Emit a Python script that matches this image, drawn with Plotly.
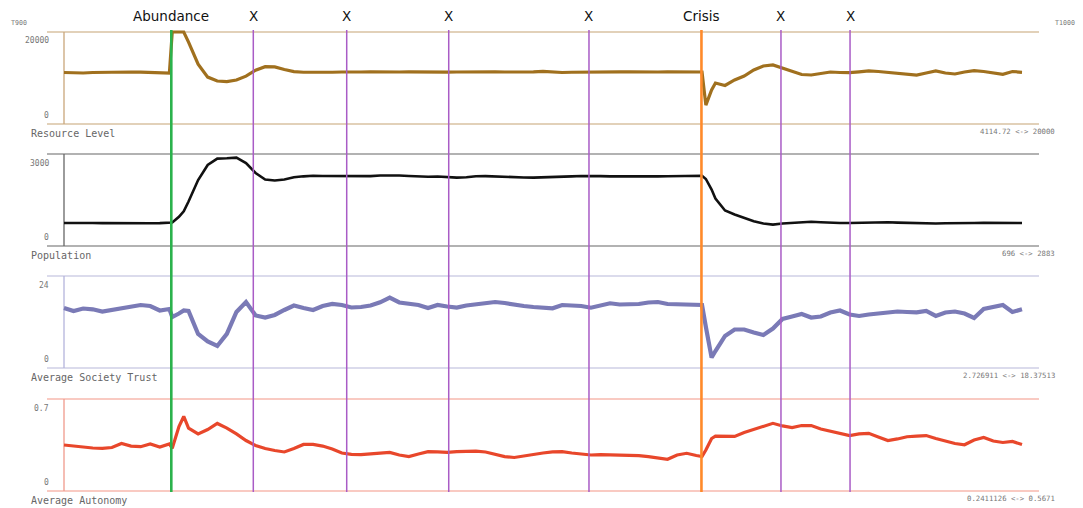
import plotly.graph_objects as go

W, H = 1083, 508

# Simulation steps (extra samples where the dynamics change abruptly)
STEPS = (list(range(900, 912)) + [911.3, 912, 912.5] + list(range(913, 967))
         + [966.6, 967, 967.6] + list(range(968, 1001)))

resource_level = [
    11200, 11130, 11090, 11200, 11260, 11350, 11370, 11300, 11260, 11200, 11150, 11090,
    20000, 20000, 20000,
    17800, 13000, 10200, 9350, 9200, 9550, 10400, 11700, 12450, 12400, 11850, 11400, 11250,
    11200, 11150, 11250, 11300, 11250, 11300, 11350, 11300, 11250, 11300, 11350, 11300,
    11280, 11320, 11260, 11300, 11340, 11300, 11280, 11330, 11300, 11260, 11310, 11350,
    11420, 11300, 11200, 11250, 11300, 11340, 11300, 11280, 11330, 11360, 11300, 11340,
    11300, 11320, 11290, 11330, 11310,
    11300, 4114.72, 7400,
    8900, 8370, 9570, 10430, 11740, 12610, 12830, 12170, 11410, 10760, 10650, 10980,
    11300, 11200, 11150, 11350, 11560, 11410, 11240, 11090, 10940, 10650, 11090, 11560,
    11090, 10870, 11300, 11590, 11410, 11150, 10800, 11410, 11240,
]

population = [
    750, 755, 760, 752, 745, 740, 742, 748, 745, 740, 745, 750,
    766, 950, 1130,
    1450, 2150, 2640, 2850, 2860, 2883, 2706, 2380, 2168, 2135, 2168, 2243, 2272, 2292,
    2282, 2280, 2270, 2260, 2265, 2280, 2300, 2310, 2300, 2285, 2270, 2260, 2265, 2250,
    2230, 2240, 2275, 2280, 2265, 2250, 2240, 2235, 2230, 2240, 2230, 2250, 2270, 2285,
    2292, 2280, 2270, 2265, 2260, 2262, 2265, 2270, 2275, 2285, 2290, 2292,
    2292, 2185, 1842,
    1549, 1158, 1027, 919, 805, 734, 696,
    734, 757, 783, 789, 773, 757, 750, 750, 760, 766, 773, 773, 763, 750, 750, 744,
    734, 744, 740, 737, 750, 757, 757, 773, 750, 750,
]

society_trust = [
    15.65, 14.87, 15.52, 15.31, 14.74, 15.13, 15.78, 16.17, 16.43, 16.17, 15.0, 15.39,
    13.30, 14.22, 15.0,
    14.87, 8.87, 6.91, 5.74, 8.9, 14.61, 17.22, 13.70, 13.17, 13.83, 15.13, 16.30, 15.65,
    15.13, 16.17, 16.70, 16.43, 15.78, 15.91, 16.30, 17.14, 18.37513, 17.09, 16.70, 16.43,
    15.65, 16.43, 16.04, 15.78, 16.30, 16.57, 16.96, 17.22, 16.96, 16.43, 16.17, 15.91,
    15.78, 15.57, 16.43, 16.43, 16.17, 15.73, 16.43, 16.88, 16.57, 16.57, 16.70, 17.09,
    17.22, 16.70, 16.57, 16.43, 16.43,
    16.43, 10.70, 2.726911,
    4.43, 8.35, 10.04, 10.04, 9.26, 8.61, 10.30, 12.78, 13.43, 14.09, 13.17, 13.43,
    14.48, 15.0, 13.96, 13.57, 13.96, 14.22, 14.48, 14.74, 14.61, 14.53, 14.87, 13.57,
    14.48, 14.74, 14.22, 13.04, 15.39, 16.04, 16.43, 14.61, 15.31,
]

autonomy = [
    0.350, 0.342, 0.335, 0.327, 0.325, 0.331, 0.361, 0.342, 0.337, 0.358, 0.335, 0.358,
    0.325, 0.49, 0.5671,
    0.479, 0.434, 0.468, 0.514, 0.479, 0.434, 0.384, 0.346, 0.323, 0.308, 0.297, 0.323, 0.354,
    0.354, 0.342, 0.320, 0.289, 0.279, 0.277, 0.282, 0.289, 0.294, 0.274, 0.262, 0.282,
    0.299, 0.297, 0.294, 0.299, 0.302, 0.304, 0.297, 0.277, 0.262, 0.255, 0.266, 0.282,
    0.289, 0.297, 0.300, 0.289, 0.279, 0.274, 0.277, 0.276, 0.274, 0.270, 0.269, 0.262,
    0.253, 0.2411126, 0.274, 0.287, 0.270,
    0.262, 0.312, 0.3995,
    0.418, 0.415, 0.415, 0.445, 0.468, 0.491, 0.515, 0.495, 0.483, 0.498, 0.498, 0.472,
    0.457, 0.437, 0.422, 0.434, 0.439, 0.411, 0.384, 0.396, 0.413, 0.418, 0.422, 0.399,
    0.377, 0.361, 0.352, 0.388, 0.407, 0.380, 0.369, 0.377, 0.354,
]

PANEL_NAMES = ["Resource Level", "Population", "Average Society Trust", "Average Autonomy"]
PANEL_MAX = [20000, 3000, 24, 0.7]
PANEL_MAX_LABELS = ["20000", "3000", "24", "0.7"]
SERIES = [resource_level, population, society_trust, autonomy]

EVENT_LABELS = ["Abundance", "X", "X", "X", "X", "Crisis", "X", "X"]
EVENT_STEPS = [911.2, 919.76, 929.51, 940.16, 954.8, 966.54, 974.84, 982.05]

T_START, T_END = 900, 1000

# styling
LINE_COLORS = ["#a0701e", "#111111", "#7a7ab6", "#e8472b"]
LINE_WIDTHS = [3.2, 2.6, 4.2, 3.2]
FRAME_COLORS = ["#d9c2a2", "#999999", "#cfcfe6", "#f7b8ae"]
AXIS_COLORS = ["#c9a67a", "#666666", "#b4b4dc", "#f09a8c"]
EVENT_COLORS = {"Abundance": "#2bb24c", "Crisis": "#ff8a2a", "X": "#a95cc6"}
EVENT_WIDTHS = {"Abundance": 2.6, "Crisis": 2.6, "X": 1.5}

# pixel geometry of the stacked panels
PLOT_LEFT, PLOT_RIGHT = 47, 1039
DATA_LEFT, DATA_RIGHT = 64, 1022
PANEL_TOPS = [32, 154, 276, 399]
PANEL_H = 92
PAD = 4

px_per_step = (DATA_RIGHT - DATA_LEFT) / (T_END - T_START)
x_range = [T_START - (DATA_LEFT - PLOT_LEFT) / px_per_step,
           T_END + (PLOT_RIGHT - DATA_RIGHT) / px_per_step]

MONO = "DejaVu Sans Mono"
SANS = "DejaVu Sans"

fig = go.Figure()
shapes = []
annotations = []


def py(v):
    return 1 - v / H


def pxx(v):
    return v / W


for i, (name, ymax, values) in enumerate(zip(PANEL_NAMES, PANEL_MAX, SERIES)):
    yname = "y" if i == 0 else f"y{i + 1}"
    axname = "yaxis" if i == 0 else f"yaxis{i + 1}"
    top = PANEL_TOPS[i]
    bottom = top + PANEL_H
    fig.add_trace(go.Scatter(
        x=STEPS, y=values, mode="lines", xaxis="x", yaxis=yname,
        line=dict(color=LINE_COLORS[i], width=LINE_WIDTHS[i]),
        showlegend=False, hoverinfo="skip",
    ))
    fig.layout[axname] = dict(
        domain=[py(bottom + PAD), py(top - PAD)],
        range=[-ymax * PAD / PANEL_H, ymax * (1 + PAD / PANEL_H)],
        anchor="x", visible=False, fixedrange=True,
    )
    # frame lines at 0 and max
    for yv in (0, ymax):
        shapes.append(dict(type="line", xref="x domain", yref=yname, x0=0, x1=1,
                           y0=yv, y1=yv, line=dict(color=FRAME_COLORS[i], width=1.3),
                           layer="below"))
    # vertical axis line at the first step
    shapes.append(dict(type="line", xref="x", yref=yname, x0=T_START, x1=T_START,
                       y0=0, y1=ymax, line=dict(color=AXIS_COLORS[i], width=1.3),
                       layer="below"))
    # value labels
    annotations.append(dict(text=PANEL_MAX_LABELS[i], xref="paper", yref="paper",
                            x=pxx(51), y=py(top + 9), xanchor="right", yanchor="middle",
                            showarrow=False, font=dict(family=MONO, size=8, color="#777777")))
    annotations.append(dict(text="0", xref="paper", yref="paper",
                            x=pxx(51), y=py(bottom - 9), xanchor="right", yanchor="middle",
                            showarrow=False, font=dict(family=MONO, size=8, color="#777777")))
    annotations.append(dict(text=name, xref="paper", yref="paper",
                            x=pxx(29), y=py(bottom + 9), xanchor="left", yanchor="middle",
                            showarrow=False, font=dict(family=MONO, size=10, color="#666666")))
    annotations.append(dict(text=f"{min(values)} <-> {max(values)}", xref="paper", yref="paper",
                            x=pxx(1057), y=py(bottom + 7), xanchor="right", yanchor="middle",
                            showarrow=False, font=dict(family=MONO, size=7.3, color="#777777")))

# time labels
annotations.append(dict(text=f"T{T_START}", xref="paper", yref="paper", x=pxx(9), y=py(23),
                        xanchor="left", yanchor="middle", showarrow=False,
                        font=dict(family=MONO, size=6.6, color="#777777")))
annotations.append(dict(text=f"T{T_END}", xref="paper", yref="paper", x=pxx(1077), y=py(23),
                        xanchor="right", yanchor="middle", showarrow=False,
                        font=dict(family=MONO, size=6.6, color="#777777")))

# event markers
for label, step in zip(EVENT_LABELS, EVENT_STEPS):
    shapes.append(dict(type="line", xref="x", yref="paper", x0=step, x1=step,
                       y0=py(492), y1=py(30),
                       line=dict(color=EVENT_COLORS[label], width=EVENT_WIDTHS[label]),
                       layer="above"))
    annotations.append(dict(text=label, xref="x", yref="paper", x=step, y=py(16),
                            xanchor="center", yanchor="middle", showarrow=False,
                            font=dict(family=SANS, size=13.5, color="#111111")))

fig.update_layout(
    width=W, height=H,
    margin=dict(l=0, r=0, t=0, b=0),
    paper_bgcolor="white", plot_bgcolor="white",
    xaxis=dict(domain=[pxx(PLOT_LEFT), pxx(PLOT_RIGHT)], range=x_range,
               visible=False, fixedrange=True),
    shapes=shapes, annotations=annotations,
    showlegend=False,
)

fig.write_html("out.html", config={"displayModeBar": False})
